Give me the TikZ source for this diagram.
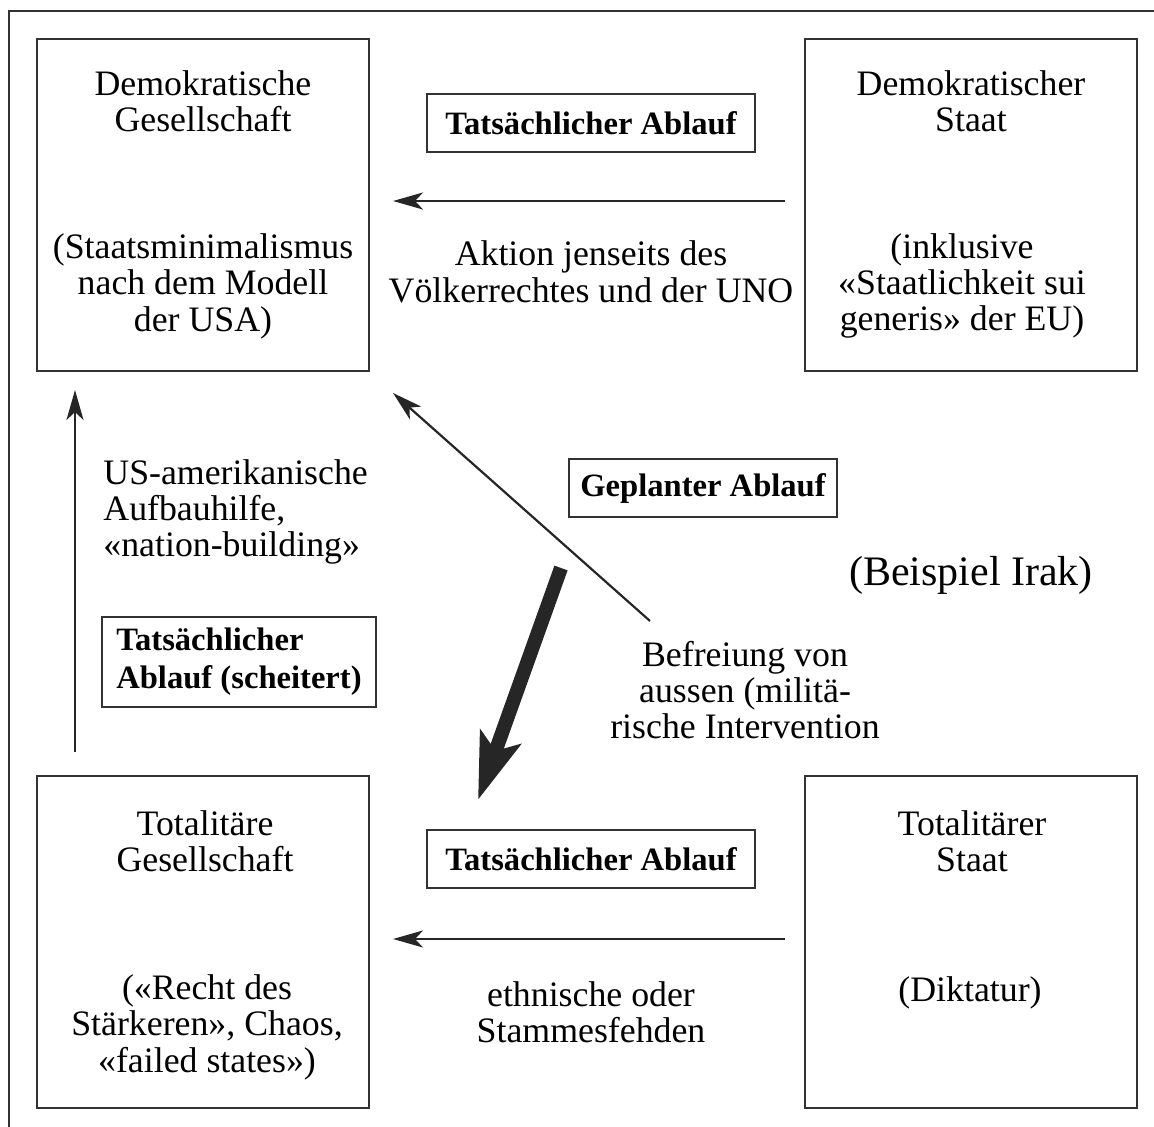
\documentclass[tikz,border=0pt]{standalone}
\usepackage{fontspec}
\setmainfont{Liberation Serif}
\usetikzlibrary{arrows.meta}
\begin{document}
\begin{tikzpicture}[x=0.5pt,y=-0.5pt,
  box/.style={draw=black!80, line width=0.8pt, minimum width=166pt, minimum height=166pt, inner sep=0pt},
  lbl/.style={draw=black!80, line width=0.6pt, inner sep=0pt, font=\fontsize{16.3}{18.5}\selectfont\bfseries},
  txt/.style={align=center, inner sep=0pt, font=\fontsize{17.9}{18.2}\selectfont},
  ltxt/.style={align=left, inner sep=0pt, font=\fontsize{17.9}{18.2}\selectfont, anchor=west},
  arr/.style={draw=black!85, line width=1.1pt, -{Stealth[length=15pt,width=8.5pt,inset=4pt]}},
  thick arr/.style={draw=black!85, line width=7pt, -{Stealth[length=33pt,width=21pt,inset=7pt]}}
]
\useasboundingbox (0,0) rectangle (1154,1127);
\fill[white] (0,0) rectangle (1154,1127);
\draw[black!80, line width=0.8pt] (9,1200) -- (9,11) -- (1200,11);

% boxes
\node[box] (dg) at (203,205) {};
\node[box] (ds) at (971,205) {};
\node[box] (tg) at (203,942) {};
\node[box] (ts) at (971,942) {};

% texts in boxes
\node[txt] (dg1) at (203,101) {Demokratische\\Gesellschaft};
\node[txt] (dg2) at (203,286) {(Staatsminimalismus\\nach dem Modell\\der USA)};
\node[txt] (ds1) at (971,101) {Demokratischer\\Staat};
\node[txt] (ds2) at (962,286) {(inklusive\\«Staatlichkeit sui\\generis» der EU)};
\node[txt] (tg1) at (205,841) {Totalitäre\\Gesellschaft};
\node[txt] (tg2) at (207,1027) {(«Recht des\\Stärkeren», Chaos,\\«failed states»)};
\node[txt] (ts1) at (972,841) {Totalitärer\\Staat};
\node[txt] (ts2) at (970,993) {(Diktatur)};

% bold labels
\node[lbl, minimum width=164pt, minimum height=29pt] (l1) at (591,123) {Tatsächlicher Ablauf};
\node[lbl, minimum width=134pt, minimum height=29pt] (l2) at (703,488) {Geplanter Ablauf};
\node[lbl, minimum width=137pt, minimum height=45pt, align=left, font=\fontsize{16.3}{19}\selectfont\bfseries] (l3) at (239,662) {Tatsächlicher\\Ablauf (scheitert)};
\node[lbl, minimum width=164pt, minimum height=29pt] (l4) at (591,859) {Tatsächlicher Ablauf};

% arrow texts
\node[txt] (t1) at (591,272) {Aktion jenseits des\\Völkerrechtes und der UNO};
\node[ltxt] (t2) at (103,512) {US-amerikanische\\Aufbauhilfe,\\«nation-building»};
\node[txt] (t3) at (745,690) {Befreiung von\\aussen (militä-\\rische Intervention};
\node[txt] (t4) at (591,1012) {ethnische oder\\Stammesfehden};
\node[inner sep=0pt, font=\fontsize{21}{24}\selectfont] (irak) at (971,575) {(Beispiel Irak)};

% arrows
\coordinate (a1s) at (785,201);
\coordinate (a1e) at (393,201);
\draw[arr] (a1s) -- (a1e);
\coordinate (a2s) at (785,939);
\coordinate (a2e) at (393,939);
\draw[arr] (a2s) -- (a2e);
\coordinate (a3s) at (75,752);
\coordinate (a3e) at (75,390);
\draw[arr] (a3s) -- (a3e);
\coordinate (a4s) at (650,621);
\coordinate (a4e) at (393,393);
\draw[arr] (a4s) -- (a4e);
\coordinate (a5s) at (561,568);
\coordinate (a5e) at (478,800);
\draw[thick arr] (a5s) -- (a5e);
\end{tikzpicture}
\end{document}
